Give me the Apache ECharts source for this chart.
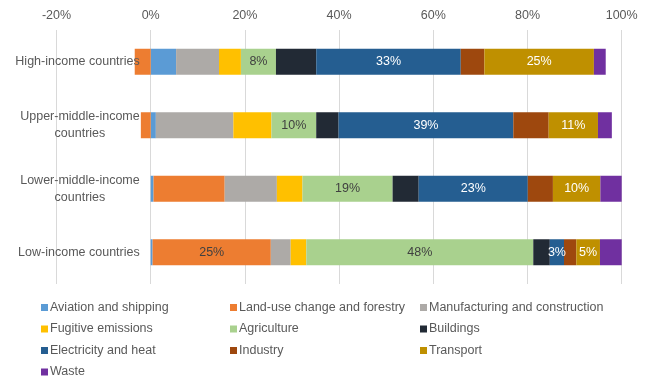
<!DOCTYPE html>
<html>
<head>
<meta charset="utf-8">
<script src="https://cdn.jsdelivr.net/npm/echarts@6/dist/echarts.min.js"></script>
<style>
  html, body { margin: 0; padding: 0; background: #fff; }
  #chart { width: 649px; height: 379px; }
</style>
</head>
<body>
<div id="chart"></div>
<script>
// Income groups, top to bottom
const categories = [
  'High-income countries',
  'Upper-middle-income countries',
  'Lower-middle-income countries',
  'Low-income countries'
];
const categoryLabels = [
  'High-income countries',
  'Upper-middle-income\ncountries',
  'Lower-middle-income\ncountries',
  'Low-income countries'
];

// Sector shares of each group's net emissions (%)
const aviation      = [5.8, 1.15, 0.6, 0.4];
const landUse       = [-3.65, -2.2, 15.0, 25];
const manufacturing = [9.8, 17.3, 11.0, 4.2];
const fugitive      = [5.0, 8.5, 5.4, 3.3];
const agriculture   = [8, 10, 19, 48];
const buildings     = [9.2, 5.0, 5.5, 3.5];
const electricity   = [33, 39, 23, 3];
const industry      = [5.4, 7.9, 5.3, 2.6];
const transport     = [25, 11, 10, 5];
const waste         = [2.7, 3.1, 4.5, 4.6];

const xTicks = { min: -20, max: 100, interval: 20 };

const sectors = [
  { name: 'Aviation and shipping',           data: aviation,      color: '#5B9BD5' },
  { name: 'Land-use change and forestry',    data: landUse,       color: '#ED7D31', labelColor: '#404040', labelled: [3] },
  { name: 'Manufacturing and construction',  data: manufacturing, color: '#ADAAA7' },
  { name: 'Fugitive emissions',              data: fugitive,      color: '#FFC000' },
  { name: 'Agriculture',                     data: agriculture,   color: '#A9D18E', labelColor: '#404040', labelled: [0, 1, 2, 3] },
  { name: 'Buildings',                       data: buildings,     color: '#222A35' },
  { name: 'Electricity and heat',            data: electricity,   color: '#255E91', labelColor: '#ffffff', labelled: [0, 1, 2, 3] },
  { name: 'Industry',                        data: industry,      color: '#9E480E' },
  { name: 'Transport',                       data: transport,     color: '#BF9000', labelColor: '#ffffff', labelled: [0, 1, 2, 3] },
  { name: 'Waste',                           data: waste,         color: '#7030A0' }
];

// 100% stacked: every group's bar spans the sum of absolute shares
const absTotals = categories.map((_, i) =>
  sectors.reduce((s, sec) => s + Math.abs(sec.data[i]), 0));

const FONT = '"Liberation Sans", Arial, sans-serif';
const TEXT = '#595959';

const GRID_LEFT = 56.5;
const GRID_RIGHT = 27.3;
const CHART_W = 649;
// pixel distance from the plot's left edge to the 0% line
const zeroOffset = (0 - xTicks.min) / (xTicks.max - xTicks.min) * (CHART_W - GRID_LEFT - GRID_RIGHT);

const series = sectors.map(sec => ({
  name: sec.name,
  type: 'bar',
  stack: 'total',
  barWidth: 26,
  itemStyle: { color: sec.color },
  data: sec.data.map((v, i) => {
    const item = { value: v / absTotals[i] * 100 };
    if (sec.labelled && sec.labelled.includes(i)) {
      item.label = {
        show: true,
        position: 'inside',
        color: sec.labelColor,
        fontFamily: FONT,
        fontSize: 12.5,
        formatter: () => Math.round(v) + '%'
      };
    }
    return item;
  })
}));

// Legend laid out in three columns, read row by row
const legendCols = [
  [0, 3, 6, 9],
  [1, 4, 7],
  [2, 5, 8]
];
const legendLeft = [41, 230, 420];
const legends = legendCols.map((idx, c) => ({
  orient: 'vertical',
  left: legendLeft[c],
  top: 301,
  height: 90,
  padding: 0,
  itemWidth: 7,
  itemHeight: 7,
  itemGap: 8.5,
  icon: 'rect',
  selectedMode: false,
  textStyle: { color: TEXT, fontFamily: FONT, fontSize: 12.5, padding: [0, 0, 0, -3] },
  data: idx.map(k => sectors[k].name)
}));

const chart = echarts.init(document.getElementById('chart'), null, { renderer: 'canvas' });
chart.setOption({
  animation: false,
  backgroundColor: '#ffffff',
  grid: { left: GRID_LEFT, right: GRID_RIGHT, top: 30, height: 254, containLabel: false, outerBoundsMode: 'none' },
  legend: legends,
  xAxis: {
    type: 'value',
    position: 'top',
    min: xTicks.min,
    max: xTicks.max,
    interval: xTicks.interval,
    axisLine: { show: false },
    axisTick: { show: false },
    splitLine: { lineStyle: { color: '#D9D9D9', width: 1 } },
    axisLabel: {
      color: TEXT,
      fontFamily: FONT,
      fontSize: 12.5,
      margin: 8,
      formatter: '{value}%'
    }
  },
  yAxis: {
    type: 'category',
    inverse: true,
    data: categories,
    z: 5,
    // category labels sit against the 0% line
    offset: -zeroOffset,
    axisLine: { show: false },
    axisTick: { show: false },
    axisLabel: {
      margin: 11,
      formatter: (val, i) => '{c|' + categoryLabels[i].split('\n').join('}\n{c|') + '}',
      rich: {
        c: { align: 'center', color: TEXT, fontFamily: FONT, fontSize: 12.5, lineHeight: 17 }
      }
    }
  },
  series: series
});
</script>
</body>
</html>
